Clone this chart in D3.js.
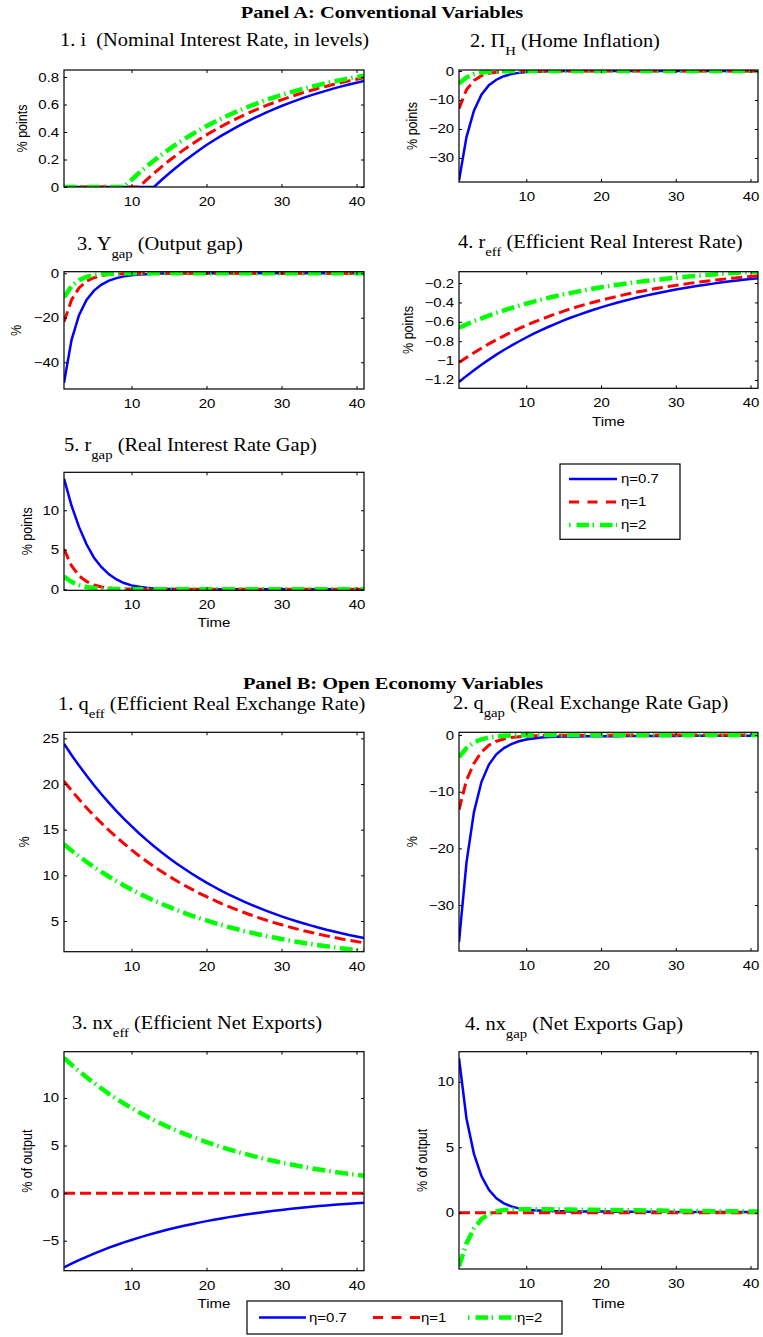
<!DOCTYPE html>
<html><head><meta charset="utf-8">
<script src="https://cdn.jsdelivr.net/npm/d3@7"></script>
<style>
body{margin:0;background:#fff}
svg{display:block}
text{white-space:pre}
</style></head><body>
<svg id="c" width="763" height="1337"></svg>
<script>
// ---------------- DATA ----------------
const time = [1,2,3,4,5,6,7,8,9,10,11,12,13,14,15,16,17,18,19,20,21,22,23,24,25,26,27,28,29,30,31,32,33,34,35,36,37,38,39,40,41];
const timeTicks = [10,20,30,40];
const seriesNames = ["\u03b7=0.7","\u03b7=1","\u03b7=2"];

// Panel A.1  i (nominal interest rate, levels)
const iEta07 = [0,0,0,0,0,0,0,0,0,0,0,0,0,0.051,0.098,0.144,0.188,0.228,0.268,0.305,0.340,0.374,0.405,0.435,0.465,0.492,0.518,0.543,0.566,0.589,0.610,0.630,0.650,0.668,0.685,0.701,0.717,0.732,0.745,0.758,0.771];
const iEta1  = [0,0,0,0,0,0,0,0,0,0,0,0.052,0.100,0.147,0.191,0.232,0.272,0.309,0.345,0.379,0.411,0.441,0.470,0.497,0.523,0.548,0.571,0.593,0.614,0.634,0.653,0.671,0.688,0.704,0.719,0.733,0.747,0.760,0.772,0.784,0.795];
const iEta2  = [0,0,0,0,0,0,0,0,0,0.052,0.102,0.148,0.192,0.234,0.274,0.312,0.347,0.381,0.413,0.443,0.471,0.499,0.524,0.548,0.571,0.593,0.614,0.633,0.652,0.669,0.686,0.701,0.716,0.730,0.743,0.756,0.768,0.779,0.790,0.800,0.810];
const iTicks = [0,0.2,0.4,0.6,0.8];

// Panel A.2  Pi_H (home inflation)
const piEta07 = [-37.8,-22.8,-13.7,-8.2,-4.9,-3.0,-1.8,-1.06,-0.64,-0.38,-0.23,-0.14,-0.08,-0.05,-0.03,-0.02,-0.01,0,0,0,0,0,0,0,0,0,0,0,0,0,0,0,0,0,0,0,0,0,0,0,0];
const piEta1  = [-13.0,-6.5,-3.3,-1.6,-0.8,-0.4,-0.2,-0.1,-0.05,-0.03,-0.01,0,0,0,0,0,0,0,0,0,0,0,0,0,0,0,0,0,0,0,0,0,0,0,0,0,0,0,0,0,0];
const piEta2  = [-4.3,-2.2,-1.1,-0.55,-0.28,-0.14,-0.07,-0.04,-0.02,-0.01,0,0,0,0,0,0,0,0,0,0,0,0,0,0,0,0,0,0,0,0,0,0,0,0,0,0,0,0,0,0,0];
const piTicks = [-30,-20,-10,0];

// Panel A.3  Y_gap (output gap)
const ygEta07 = [-49.2,-30.0,-18.8,-12.0,-7.8,-5.1,-3.3,-2.2,-1.4,-0.9,-0.6,-0.4,-0.25,-0.16,-0.1,-0.07,-0.04,-0.03,-0.02,-0.01,0,0,0,0,0,0,0,0,0,0,0,0,0,0,0,0,0,0,0,0,0];
const ygEta1  = [-21.8,-12.0,-6.6,-3.6,-2.0,-1.1,-0.6,-0.33,-0.18,-0.1,-0.06,-0.03,-0.02,-0.01,0,0,0,0,0,0,0,0,0,0,0,0,0,0,0,0,0,0,0,0,0,0,0,0,0,0,0];
const ygEta2  = [-10.8,-5.8,-3.1,-1.6,-0.85,-0.45,-0.24,-0.12,-0.06,-0.03,-0.02,-0.01,0,0,0,0,0,0,0,0,0,0,0,0,0,0,0,0,0,0,0,0,0,0,0,0,0,0,0,0,0];
const ygTicks = [-40,-20,0];

// Panel A.4  r_eff (efficient real interest rate)
const reEta07 = [-1.220,-1.158,-1.099,-1.043,-0.990,-0.939,-0.891,-0.846,-0.803,-0.762,-0.723,-0.686,-0.651,-0.618,-0.586,-0.556,-0.528,-0.501,-0.476,-0.451,-0.428,-0.406,-0.386,-0.366,-0.347,-0.330,-0.313,-0.297,-0.282,-0.267,-0.254,-0.241,-0.229,-0.217,-0.206,-0.195,-0.185,-0.176,-0.167,-0.158,-0.150];
const reEta1  = [-1.020,-0.968,-0.919,-0.872,-0.827,-0.785,-0.745,-0.707,-0.671,-0.637,-0.604,-0.574,-0.544,-0.517,-0.490,-0.465,-0.441,-0.419,-0.398,-0.377,-0.358,-0.340,-0.322,-0.306,-0.290,-0.276,-0.262,-0.248,-0.236,-0.224,-0.212,-0.201,-0.191,-0.181,-0.172,-0.163,-0.155,-0.147,-0.140,-0.132,-0.126];
const reEta2  = [-0.660,-0.626,-0.594,-0.564,-0.535,-0.508,-0.482,-0.458,-0.434,-0.412,-0.391,-0.371,-0.352,-0.334,-0.317,-0.301,-0.286,-0.271,-0.257,-0.244,-0.232,-0.220,-0.209,-0.198,-0.188,-0.178,-0.169,-0.161,-0.152,-0.145,-0.137,-0.130,-0.124,-0.117,-0.111,-0.106,-0.100,-0.095,-0.090,-0.086,-0.081];
const reTicks = [-1.2,-1,-0.8,-0.6,-0.4,-0.2];

// Panel A.5  r_gap (real interest rate gap)
const rgEta07 = [14.0,10.6,7.9,5.7,4.0,2.8,1.9,1.25,0.8,0.5,0.32,0.2,0.12,0.08,0.05,0.03,0.02,0.01,0.01,0,0,0,0,0,0,0,0,0,0,0,0,0,0,0,0,0,0,0,0,0,0];
const rgEta1  = [5.1,3.0,1.7,1.0,0.55,0.3,0.17,0.09,0.05,0.03,0.01,0,0,0,0,0,0,0,0,0,0,0,0,0,0,0,0,0,0,0,0,0,0,0,0,0,0,0,0,0,0];
const rgEta2  = [1.6,0.95,0.55,0.3,0.17,0.09,0.05,0.03,0.01,0,0,0,0,0,0,0,0,0,0,0,0,0,0,0,0,0,0,0,0,0,0,0,0,0,0,0,0,0,0,0,0];
const rgTicks = [0,5,10];

// Panel B.1  q_eff (efficient real exchange rate)
const qeEta07 = [24.40,23.18,22.02,20.92,19.87,18.88,17.94,17.04,16.19,15.38,14.61,13.88,13.19,12.52,11.90,11.30,10.74,10.20,9.69,9.21,8.75,8.31,7.89,7.50,7.12,6.77,6.43,6.11,5.80,5.51,5.24,4.98,4.73,4.49,4.27,4.05,3.85,3.66,3.47,3.30,3.14];
const qeEta1  = [20.30,19.29,18.32,17.41,16.53,15.71,14.92,14.18,13.47,12.79,12.15,11.55,10.97,10.42,9.90,9.41,8.93,8.49,8.06,7.66,7.28,6.91,6.57,6.24,5.93,5.63,5.35,5.08,4.83,4.59,4.36,4.14,3.93,3.74,3.55,3.37,3.20,3.04,2.89,2.75,2.61];
const qeEta2  = [13.40,12.73,12.09,11.49,10.91,10.37,9.85,9.36,8.89,8.44,8.02,7.62,7.24,6.88,6.54,6.21,5.90,5.60,5.32,5.06,4.80,4.56,4.33,4.12,3.91,3.72,3.53,3.35,3.19,3.03,2.88,2.73,2.60,2.47,2.34,2.23,2.11,2.01,1.91,1.81,1.72];
const qeTicks = [5,10,15,20,25];

// Panel B.2  q_gap (real exchange rate gap)
const qgEta07 = [-36.5,-22.5,-13.6,-8.3,-5.2,-3.4,-2.3,-1.6,-1.1,-0.8,-0.6,-0.45,-0.36,-0.3,-0.27,-0.25,-0.24,-0.23,-0.22,-0.21,-0.2,-0.2,-0.19,-0.19,-0.18,-0.18,-0.17,-0.17,-0.16,-0.16,-0.15,-0.15,-0.15,-0.14,-0.14,-0.13,-0.13,-0.13,-0.12,-0.12,-0.12];
const qgEta1  = [-13.2,-8.0,-5.0,-3.0,-1.8,-1.1,-0.7,-0.45,-0.3,-0.2,-0.15,-0.1,-0.08,-0.06,-0.05,-0.04,-0.03,-0.03,-0.02,-0.02,-0.02,-0.01,-0.01,-0.01,-0.01,-0.01,-0.01,-0.01,-0.01,-0.01,-0.01,-0.01,-0.01,-0.01,-0.01,-0.01,-0.01,-0.01,-0.01,-0.01,-0.01];
const qgEta2  = [-3.9,-2.3,-1.3,-0.75,-0.42,-0.24,-0.14,-0.08,-0.05,-0.03,-0.02,-0.01,0,0,0,0,0,0,0,0,0,0,0,0,0,0,0,0,0,0,0,0,0,0,0,0,0,0,0,0,0];
const qgTicks = [-30,-20,-10,0];

// Panel B.3  nx_eff (efficient net exports)
const neEta07 = [-7.80,-7.41,-7.04,-6.69,-6.35,-6.04,-5.73,-5.45,-5.17,-4.92,-4.67,-4.44,-4.22,-4.00,-3.80,-3.61,-3.43,-3.26,-3.10,-2.94,-2.80,-2.66,-2.52,-2.40,-2.28,-2.16,-2.06,-1.95,-1.85,-1.76,-1.67,-1.59,-1.51,-1.44,-1.36,-1.30,-1.23,-1.17,-1.11,-1.06,-1.00];
const neEta1  = [0,0,0,0,0,0,0,0,0,0,0,0,0,0,0,0,0,0,0,0,0,0,0,0,0,0,0,0,0,0,0,0,0,0,0,0,0,0,0,0,0];
const neEta2  = [14.20,13.49,12.82,12.18,11.57,10.99,10.44,9.92,9.42,8.95,8.50,8.08,7.67,7.29,6.93,6.58,6.25,5.94,5.64,5.36,5.09,4.84,4.59,4.37,4.15,3.94,3.74,3.55,3.38,3.21,3.05,2.90,2.75,2.61,2.48,2.36,2.24,2.13,2.02,1.92,1.82];
const neTicks = [-5,0,5,10];

// Panel B.4  nx_gap (net exports gap)
const ngEta07 = [11.8,7.2,4.5,2.8,1.75,1.1,0.72,0.48,0.33,0.24,0.18,0.15,0.13,0.12,0.11,0.1,0.1,0.1,0.09,0.09,0.09,0.08,0.08,0.08,0.08,0.07,0.07,0.07,0.07,0.06,0.06,0.06,0.06,0.06,0.05,0.05,0.05,0.05,0.05,0.05,0.05];
const ngEta1  = [0,0,0,0,0,0,0,0,0,0,0,0,0,0,0,0,0,0,0,0,0,0,0,0,0,0,0,0,0,0,0,0,0,0,0,0,0,0,0,0,0];
const ngEta2  = [-4.1,-2.35,-1.2,-0.5,-0.1,0.1,0.2,0.25,0.27,0.27,0.27,0.26,0.26,0.25,0.25,0.24,0.23,0.23,0.22,0.21,0.21,0.2,0.19,0.19,0.18,0.17,0.17,0.16,0.15,0.15,0.14,0.14,0.13,0.13,0.12,0.12,0.11,0.11,0.1,0.1,0.1];
const ngTicks = [0,5,10];

// ---------------- LAYOUT / STYLE ----------------
const SX = 1.2; // horizontal stretch of the original figure's text
const SXT = 1.135;
const SANS = "'Liberation Sans', Arial, Helvetica, sans-serif";
const SERIF = "'Liberation Serif', 'Times New Roman', Times, serif";
const colors = ["#0000ff","#ff0000","#00ff00"];
const widths = [2.5, 3, 4.5];
const dashes = [null, "11,5", "13,4,1.5,4.5"];

const plots = [
  {s:[iEta07,iEta1,iEta2], ticks:iTicks, x0:64,x1:364,y0:70,y1:187, yd:[0,0.851], ylab:"% points", ylx:22,
   title:[["1. i  (Nominal Interest Rate, in levels)"]], tx:60, ty:45.5},
  {s:[piEta07,piEta1,piEta2], ticks:piTicks, x0:459,x1:758,y0:70,y1:182, yd:[-38.3,0.35], ylab:"% points", ylx:412,
   title:[["2. \u03a0"],["H","sub"],[" (Home Inflation)"]], tx:470, ty:46.5},
  {s:[ygEta07,ygEta1,ygEta2], ticks:ygTicks, x0:64,x1:364,y0:271.7,y1:389, yd:[-52,0.7], ylab:"%", ylx:16,
   title:[["3. Y"],["gap","sub"],[" (Output gap)"]], tx:77, ty:250},
  {s:[reEta07,reEta1,reEta2], ticks:reTicks, x0:459,x1:758,y0:271.7,y1:388.3, yd:[-1.286,-0.083], ylab:"% points", ylx:408,
   title:[["4. r"],["eff","sub"],[" (Efficient Real Interest Rate)"]], tx:458, ty:248, xlab:true, xly:426},
  {s:[rgEta07,rgEta1,rgEta2], ticks:rgTicks, x0:64,x1:364,y0:472.3,y1:590.3, yd:[-0.12,14.8], ylab:"% points", ylx:27,
   title:[["5. r"],["gap","sub"],[" (Real Interest Rate Gap)"]], tx:64, ty:451, xlab:true, xly:627},
  {s:[qeEta07,qeEta1,qeEta2], ticks:qeTicks, x0:64,x1:364,y0:732.3,y1:951.7, yd:[1.64,25.66], ylab:"%", ylx:24,
   title:[["1. q"],["eff","sub"],[" (Efficient Real Exchange Rate)"]], tx:58, ty:710},
  {s:[qgEta07,qgEta1,qgEta2], ticks:qgTicks, x0:459,x1:758,y0:732.3,y1:951, yd:[-38.1,0.48], ylab:"%", ylx:412,
   title:[["2. q"],["gap","sub"],[" (Real Exchange Rate Gap)"]], tx:453, ty:709},
  {s:[neEta07,neEta1,neEta2], ticks:neTicks, x0:64,x1:364,y0:1051.7,y1:1270.7, yd:[-8.15,14.86], ylab:"% of output", ylx:27,
   title:[["3. nx"],["eff","sub"],[" (Efficient Net Exports)"]], tx:72, ty:1029, xlab:true, xly:1308},
  {s:[ngEta07,ngEta1,ngEta2], ticks:ngTicks, x0:459,x1:758,y0:1051.7,y1:1269, yd:[-4.3,12.3], ylab:"% of output", ylx:422,
   title:[["4. nx"],["gap","sub"],[" (Net Exports Gap)"]], tx:465, ty:1030, xlab:true, xly:1308}
];

const svg = d3.select("#c");
const defs = svg.append("defs");
const fmt = d => String(d).replace("-", "\u2212");

function sText(parent, x, y, str, size, family, anchor, weight) {
  return parent.append("text")
    .attr("transform", `translate(${x},${y}) scale(${SX},1)`)
    .attr("text-anchor", anchor || "start")
    .attr("font-family", family).attr("font-size", size)
    .attr("font-weight", weight || "normal")
    .attr("fill", "#000").text(str);
}

function title(parts, x, y) {
  const t = svg.append("text")
    .attr("transform", `translate(${x},${y}) scale(${SXT},1)`)
    .attr("font-family", SERIF).attr("font-size", 18).attr("fill", "#000");
  let shifted = false;
  parts.forEach(p => {
    const ts = t.append("tspan").text(p[0]);
    if (p[1] === "sub") { ts.attr("font-size", 13).attr("dy", 8); shifted = true; }
    else if (shifted) { ts.attr("dy", -8); shifted = false; }
  });
}

plots.forEach((p, idx) => {
  const x = d3.scaleLinear().domain([1, 41]).range([p.x0, p.x1]);
  const y = d3.scaleLinear().domain(p.yd).range([p.y1, p.y0]);
  const g = svg.append("g");
  const cid = "clip" + idx;
  defs.append("clipPath").attr("id", cid).append("rect")
    .attr("x", p.x0).attr("y", p.y0).attr("width", p.x1 - p.x0).attr("height", p.y1 - p.y0);

  const line = d3.line().x((d, i) => x(time[i])).y(d => y(d));
  p.s.forEach((s, k) => {
    g.append("path").attr("d", line(s)).attr("fill", "none")
      .attr("stroke", colors[k]).attr("stroke-width", widths[k])
      .attr("stroke-dasharray", dashes[k]).attr("clip-path", `url(#${cid})`);
  });

  const styleAxis = sel => {
    sel.select(".domain").remove();
    sel.attr("font-family", SANS).attr("font-size", 12.5);
    sel.selectAll(".tick line").attr("stroke", "#000");
    sel.selectAll(".tick text").attr("fill", "#000").attr("transform", `scale(${SX},1)`);
  };
  g.append("g").attr("transform", `translate(0,${p.y1})`)
    .call(d3.axisBottom(x).tickValues(timeTicks).tickSizeInner(-3).tickSizeOuter(0).tickPadding(10).tickFormat(fmt))
    .call(styleAxis);
  g.append("g").attr("transform", `translate(0,${p.y0})`)
    .call(d3.axisTop(x).tickValues(timeTicks).tickSizeInner(-3).tickSizeOuter(0).tickFormat(""))
    .call(styleAxis);
  g.append("g").attr("transform", `translate(${p.x0},0)`)
    .call(d3.axisLeft(y).tickValues(p.ticks).tickSizeInner(-3).tickSizeOuter(0).tickPadding(4).tickFormat(fmt))
    .call(styleAxis);
  g.append("g").attr("transform", `translate(${p.x1},0)`)
    .call(d3.axisRight(y).tickValues(p.ticks).tickSizeInner(-3).tickSizeOuter(0).tickFormat(""))
    .call(styleAxis);

  g.append("rect").attr("x", p.x0).attr("y", p.y0).attr("width", p.x1 - p.x0).attr("height", p.y1 - p.y0)
    .attr("fill", "none").attr("stroke", "#000").attr("stroke-width", 1.2);

  // y label
  svg.append("text")
    .attr("transform", `translate(${p.ylx},${(p.y0 + p.y1) / 2}) scale(${SX},1) rotate(-90)`)
    .attr("text-anchor", "middle").attr("dy", "0.35em")
    .attr("font-family", SANS).attr("font-size", 12.5).attr("fill", "#000").text(p.ylab);
  if (p.xlab) sText(svg, (p.x0 + p.x1) / 2, p.xly, "Time", 12.5, SANS, "middle");
  title(p.title, p.tx, p.ty);
});

// panel headings
sText(svg, 382, 18, "Panel A: Conventional Variables", 17, SERIF, "middle", "bold");
sText(svg, 393, 689, "Panel B: Open Economy Variables", 17, SERIF, "middle", "bold");

// legends
const legDash = [null, "10,8.5", "1.5,6,12.5,3.5"];
function legend(box, items) {
  svg.append("rect").attr("x", box.x).attr("y", box.y).attr("width", box.w).attr("height", box.h)
    .attr("fill", "#fff").attr("stroke", "#000").attr("stroke-width", 1.2);
  items.forEach((it, k) => {
    svg.append("line").attr("x1", it.lx0).attr("x2", it.lx1).attr("y1", it.y).attr("y2", it.y)
      .attr("stroke", colors[k]).attr("stroke-width", widths[k]).attr("stroke-dasharray", legDash[k]);
    sText(svg, it.tx, it.y, seriesNames[k], 12.5, SANS, "start").attr("dy", "0.35em");
  });
}
legend({x:560, y:464, w:120, h:75.3}, [
  {lx0:569, lx1:617, y:479, tx:621},
  {lx0:569, lx1:617, y:502, tx:621},
  {lx0:569, lx1:617, y:525, tx:621}
]);
legend({x:247, y:1301, w:315, h:33}, [
  {lx0:259, lx1:306, y:1317.5, tx:309},
  {lx0:373, lx1:420, y:1317.5, tx:421},
  {lx0:468, lx1:516, y:1317.5, tx:517}
]);
</script>
</body></html>
